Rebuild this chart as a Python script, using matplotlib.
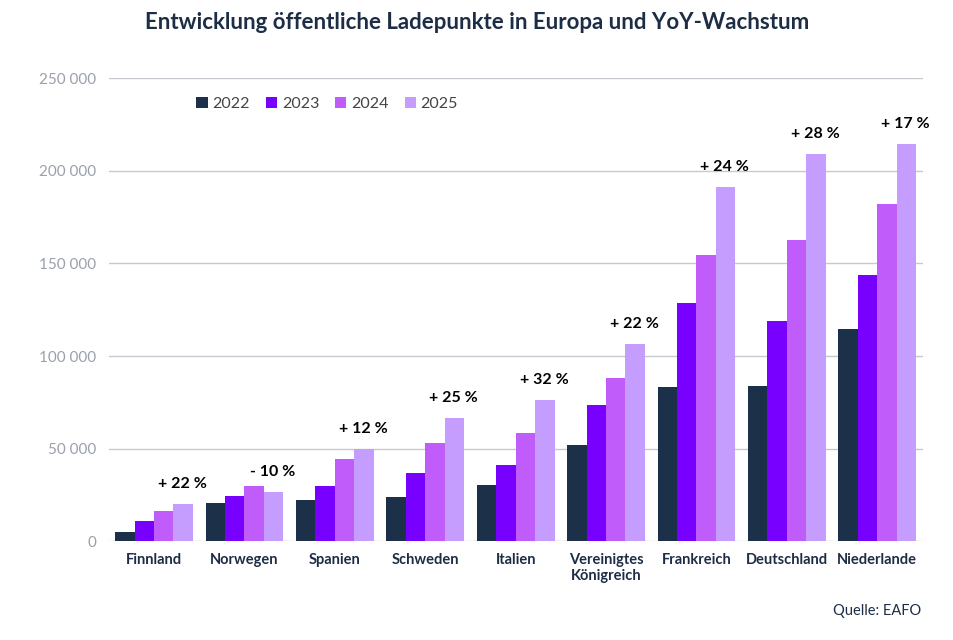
import numpy as np
import matplotlib
matplotlib.use('Agg')
import matplotlib.pyplot as plt
from matplotlib.ticker import FuncFormatter

# Data
countries = ['Finnland', 'Norwegen', 'Spanien', 'Schweden', 'Italien',
             'Vereinigtes\nKönigreich', 'Frankreich', 'Deutschland', 'Niederlande']
years = ['2022', '2023', '2024', '2025']
v2022 = [5200, 20500, 22300, 24100, 30200, 51800, 83200, 83700, 114500]
v2023 = [11200, 24300, 29900, 36700, 41000, 73400, 128500, 118800, 143600]
v2024 = [16600, 29700, 44700, 52900, 58300, 88000, 154400, 162500, 182300]
v2025 = [20200, 26800, 49700, 66400, 76100, 106400, 191300, 208800, 214400]
growth = ['+ 22 %', '- 10 %', '+ 12 %', '+ 25 %', '+ 32 %', '+ 22 %', '+ 24 %', '+ 28 %', '+ 17 %']

colors = ['#1c3049', '#7700ff', '#c05cfa', '#c49dff']
navy = '#1c2d45'

plt.rcParams['font.family'] = ['Lato', 'DejaVu Sans']

fig = plt.figure(figsize=(9.54, 6.4), dpi=100)
ax = fig.add_axes([0.114, 0.154, 0.853, 0.724])

x = np.arange(len(countries))
w = 0.215
series = [v2022, v2023, v2024, v2025]
for i, vals in enumerate(series):
    ax.bar(x + (i - 1.5) * w, vals, width=w, color=colors[i], label=years[i], zorder=3)

# growth labels above 2025 bars
for xi, val, txt in zip(x, v2025, growth):
    ax.text(xi + 1.5 * w - 0.01, val + 7000, txt, ha='center', va='bottom',
            fontsize=11.5, fontweight='bold', color='black')

ax.set_xlim(-0.5, len(countries) - 0.5)
ax.set_ylim(0, 250000)
ax.set_yticks(np.arange(0, 250001, 50000))
ax.yaxis.set_major_formatter(FuncFormatter(lambda v, p: f'{int(v):,}'.replace(',', ' ')))
ax.grid(axis='y', color='#c8c9d0', linewidth=1, zorder=0)
for s in ax.spines.values():
    s.set_visible(False)
ax.tick_params(axis='y', length=0, pad=9, labelsize=11, labelcolor='#9aa0ab')
ax.tick_params(axis='x', length=0, pad=8)
ax.set_xticks(x)
ax.set_xticklabels(countries, fontsize=10.5, fontweight='bold', color=navy)

leg = ax.legend(loc='upper left', bbox_to_anchor=(0.09, 0.99), ncol=4, frameon=False,
                fontsize=11.5, handlelength=0.7, handleheight=0.7, handletextpad=0.3,
                columnspacing=1.0)
for t in leg.get_texts():
    t.set_color('#444444')

fig.text(0.5, 0.965, 'Entwicklung öffentliche Ladepunkte in Europa und YoY-Wachstum',
         ha='center', va='center', fontsize=16, fontweight='bold', color=navy)
fig.text(0.966, 0.045, 'Quelle: EAFO', ha='right', va='center', fontsize=10.5, color=navy)

fig.savefig('out.png', dpi=100)
